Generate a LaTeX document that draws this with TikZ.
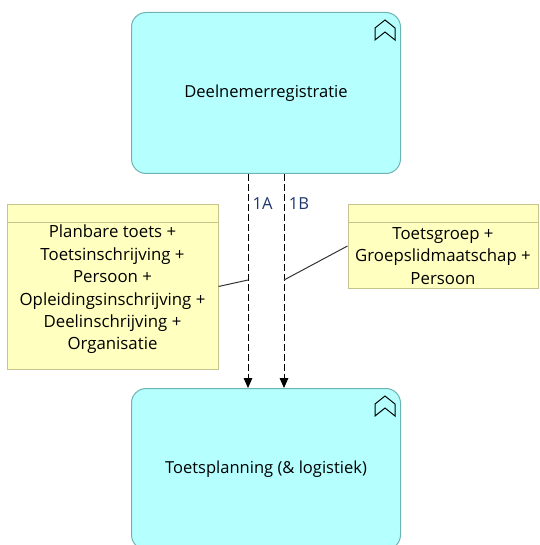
\documentclass[tikz,border=0pt]{standalone}
\usepackage{fontspec}
\setmainfont{Open Sans}
\usetikzlibrary{arrows.meta,positioning}
\definecolor{appfill}{RGB}{181,255,255}
\definecolor{appline}{RGB}{110,180,180}
\definecolor{notefill}{RGB}{255,255,191}
\definecolor{noteline}{RGB}{196,196,140}
\definecolor{lblblue}{RGB}{30,55,110}
\begin{document}
\begin{tikzpicture}[x=0.75pt,y=-0.75pt,
    app/.style={draw=appline, fill=appfill, line width=0.75pt, rounded corners=11pt,
      minimum width=201.75pt, minimum height=120.75pt, font=\fontsize{12.4}{14}\selectfont},
    note/.style={draw=noteline, fill=notefill, line width=0.75pt, inner sep=0pt},
    notetext/.style={align=center, inner sep=0pt, font=\fontsize{12.6}{16.8}\selectfont},
    flow/.style={dash pattern=on 5pt off 2.5pt, line width=0.75pt, -{Triangle[length=7.5pt,width=6.5pt]}},
    lbl/.style={text=lblblue, inner sep=0pt, font=\fontsize{12.4}{14}\selectfont}]
    \useasboundingbox (0,0) rectangle (539,545);

    % applications
    \node[app] (reg) at (266,93) {Deelnemerregistratie};
    \node[app] (plan) at (266,469) {Toetsplanning (\& logistiek)};

    % icons
    \foreach \n in {reg,plan}
        \draw[line width=0.75pt] ([shift={(-26,28)}]\n.north east) -- ++(0,-12) -- ++(10,-8) -- ++(10,8) -- ++(0,12) -- ++(-10,-8) -- cycle;

    % notes
    \node[note, minimum width=158.25pt, minimum height=123.75pt] (noteA) at (112.5,286.5) {};
    \node[note, minimum width=142.5pt, minimum height=63pt] (noteB) at (443,246) {};
    \foreach \n in {noteA,noteB}
        \draw[noteline, line width=0.75pt] ([shift={(0,19)}]\n.north west) -- ([shift={(0,19)}]\n.north east);
    \node[notetext] (txtA) at (112.5,289.5) {Planbare toets +\\Toetsinschrijving +\\Persoon +\\Opleidingsinschrijving +\\Deelinschrijving +\\Organisatie};
    \node[notetext] (txtB) at (443,256) {Toetsgroep +\\Groepslidmaatschap +\\Persoon};

    % flows
    \draw[flow] ([shift={(-18,0)}]reg.south) -- ([shift={(-18,0)}]plan.north);
    \draw[flow] ([shift={(18,0)}]reg.south) -- ([shift={(18,0)}]plan.north);
    \node[lbl] (labA) at (262.5,204) {1A};
    \node[lbl] (labB) at (299,204) {1B};

    % note connectors
    \coordinate (jA) at (248,280);
    \coordinate (jB) at (284,280);
    \draw[line width=0.75pt, black!80] (noteA.east) -- (jA);
    \draw[line width=0.75pt, black!80] (noteB.west) -- (jB);
\end{tikzpicture}
\end{document}
